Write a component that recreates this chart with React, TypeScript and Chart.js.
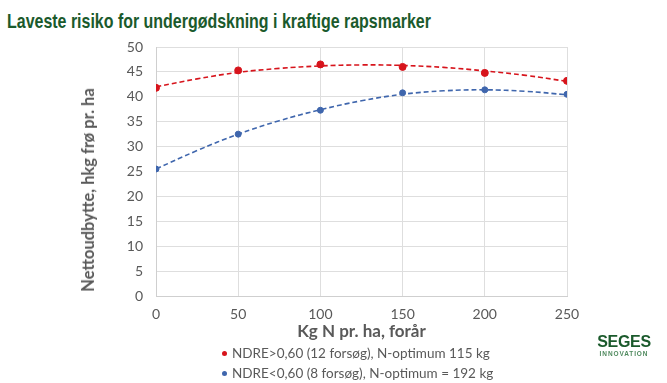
import React, { useEffect, useRef } from "react";
import { Chart, registerables } from "chart.js";

Chart.register(...registerables);

const xValues = [0, 50, 100, 150, 200, 250];
const redValues = [41.8, 45.3, 46.5, 46.0, 44.8, 43.2];
const blueValues = [25.5, 32.5, 37.3, 40.8, 41.4, 40.5];

const trendX = [0, 25, 50, 75, 100, 125, 150, 175, 200, 225, 250];
const redTrend = [42.0, 43.6, 44.9, 45.7, 46.2, 46.4, 46.3, 45.9, 45.2, 44.3, 43.1];
const blueTrend = [25.5, 29.2, 32.5, 35.2, 37.4, 39.2, 40.5, 41.2, 41.4, 41.1, 40.4];

const yTicks = [0, 5, 10, 15, 20, 25, 30, 35, 40, 45, 50];

const yTitle = "Nettoudbytte, hkg frø pr. ha";
const xTitle = "Kg N pr. ha, forår";
const legendLabels = [
  "NDRE>0,60 (12 forsøg), N-optimum 115 kg",
  "NDRE<0,60 (8 forsøg), N-optimum = 192 kg",
];

const RED = "#d7141c";
const BLUE = "#3f66ad";
const TEXT = "#595959";
const GREEN = "#1b5a2c";

function pts(xs: number[], ys: number[]) {
  return xs.map((x, i) => ({ x, y: ys[i] }));
}

export default function App() {
  const ref = useRef<HTMLCanvasElement | null>(null);

  useEffect(() => {
    if (!ref.current) return;
    const chart = new Chart(ref.current, {
      type: "scatter",
      data: {
        datasets: [
          {
            label: "redTrend",
            data: pts(trendX, redTrend),
            showLine: true,
            borderColor: RED,
            borderWidth: 1.6,
            borderDash: [5, 3],
            pointRadius: 0,
            tension: 0.4,
          },
          {
            label: "blueTrend",
            data: pts(trendX, blueTrend),
            showLine: true,
            borderColor: BLUE,
            borderWidth: 1.6,
            borderDash: [5, 3],
            pointRadius: 0,
            tension: 0.4,
          },
          {
            label: legendLabels[0],
            data: pts(xValues, redValues),
            backgroundColor: RED,
            borderColor: RED,
            pointRadius: 3.5,
          },
          {
            label: legendLabels[1],
            data: pts(xValues, blueValues),
            backgroundColor: BLUE,
            borderColor: BLUE,
            pointRadius: 3,
          },
        ],
      },
      options: {
        animation: false,
        responsive: false,
        maintainAspectRatio: false,
        layout: { padding: { left: 78, top: 47, right: 100, bottom: 41 } },
        plugins: {
          legend: { display: false },
          tooltip: { enabled: false },
        },
        scales: {
          x: {
            type: "linear",
            min: 0,
            max: 250,
            afterBuildTicks: (axis: any) => {
              axis.ticks = xValues.map((v) => ({ value: v }));
            },
            afterFit: (axis: any) => {
              axis.height = 46;
            },
            grid: { color: "#dedede", drawTicks: false },
            border: { color: "#cfcfcf" },
            ticks: {
              padding: 10,
              color: TEXT,
              font: { family: "Lato", size: 14 },
            },
            title: {
              display: true,
              text: xTitle,
              color: TEXT,
              padding: 0,
              font: { family: "Lato", size: 17, weight: "bold" },
            },
          },
          y: {
            min: 0,
            max: 50,
            afterBuildTicks: (axis: any) => {
              axis.ticks = yTicks.map((v) => ({ value: v }));
            },
            afterFit: (axis: any) => {
              axis.width = 78;
            },
            grid: { color: "#dedede", drawTicks: false },
            border: { color: "#cfcfcf" },
            ticks: {
              padding: 13,
              color: TEXT,
              font: { family: "Lato", size: 14 },
            },
          },
        },
      },
    } as any);
    return () => chart.destroy();
  }, []);

  return (
    <div
      style={{
        position: "fixed",
        left: 0,
        top: 0,
        width: 667,
        height: 383,
        background: "#fff",
        overflow: "hidden",
      }}
    >
      <div
        style={{
          position: "absolute",
          left: 7,
          top: 8,
          fontFamily: "'Liberation Sans', Arial, sans-serif",
          fontWeight: "bold",
          fontSize: 21,
          color: GREEN,
          whiteSpace: "nowrap",
          lineHeight: "26px",
          transform: "scaleX(0.76)",
          transformOrigin: "0 0",
        }}
      >
        Laveste risiko for undergødskning i kraftige rapsmarker
      </div>
      <canvas ref={ref} width={667} height={383} style={{ position: "absolute", left: 0, top: 0 }} />
      <div
        style={{
          position: "absolute",
          left: 88,
          top: 190,
          width: 0,
          height: 0,
        }}
      >
        <div
          style={{
            position: "absolute",
            left: 0,
            top: 0,
            transform: "translate(-50%, -50%) rotate(-90deg)",
            fontFamily: "Lato, sans-serif",
            fontWeight: "bold",
            fontSize: 16.5,
            lineHeight: "20px",
            color: TEXT,
            whiteSpace: "nowrap",
          }}
        >
          {yTitle}
        </div>
      </div>
      <div
        style={{
          position: "absolute",
          left: 222,
          top: 343,
          fontFamily: "Lato, sans-serif",
          fontSize: 13.5,
          color: TEXT,
          lineHeight: "20px",
          whiteSpace: "nowrap",
        }}
      >
        {legendLabels.map((t, i) => (
          <div key={i} style={{ display: "flex", alignItems: "center" }}>
            <span
              style={{
                display: "inline-block",
                width: 5,
                height: 5,
                borderRadius: 3,
                background: i === 0 ? RED : BLUE,
                marginRight: 5,
              }}
            />
            {t}
          </div>
        ))}
      </div>
      <div
        style={{
          position: "absolute",
          left: 597,
          top: 334,
          width: 54,
          color: GREEN,
          fontFamily: "'Liberation Sans', Arial, sans-serif",
          textAlign: "center",
        }}
      >
        <div style={{ fontWeight: "bold", fontSize: 16, lineHeight: "16px", letterSpacing: -0.3 }}>SEGES</div>
        <div style={{ fontWeight: "bold", fontSize: 6.5, lineHeight: "8px", color: "#4f8a5e", letterSpacing: 0.9 }}>INNOVATION</div>
      </div>
    </div>
  );
}
